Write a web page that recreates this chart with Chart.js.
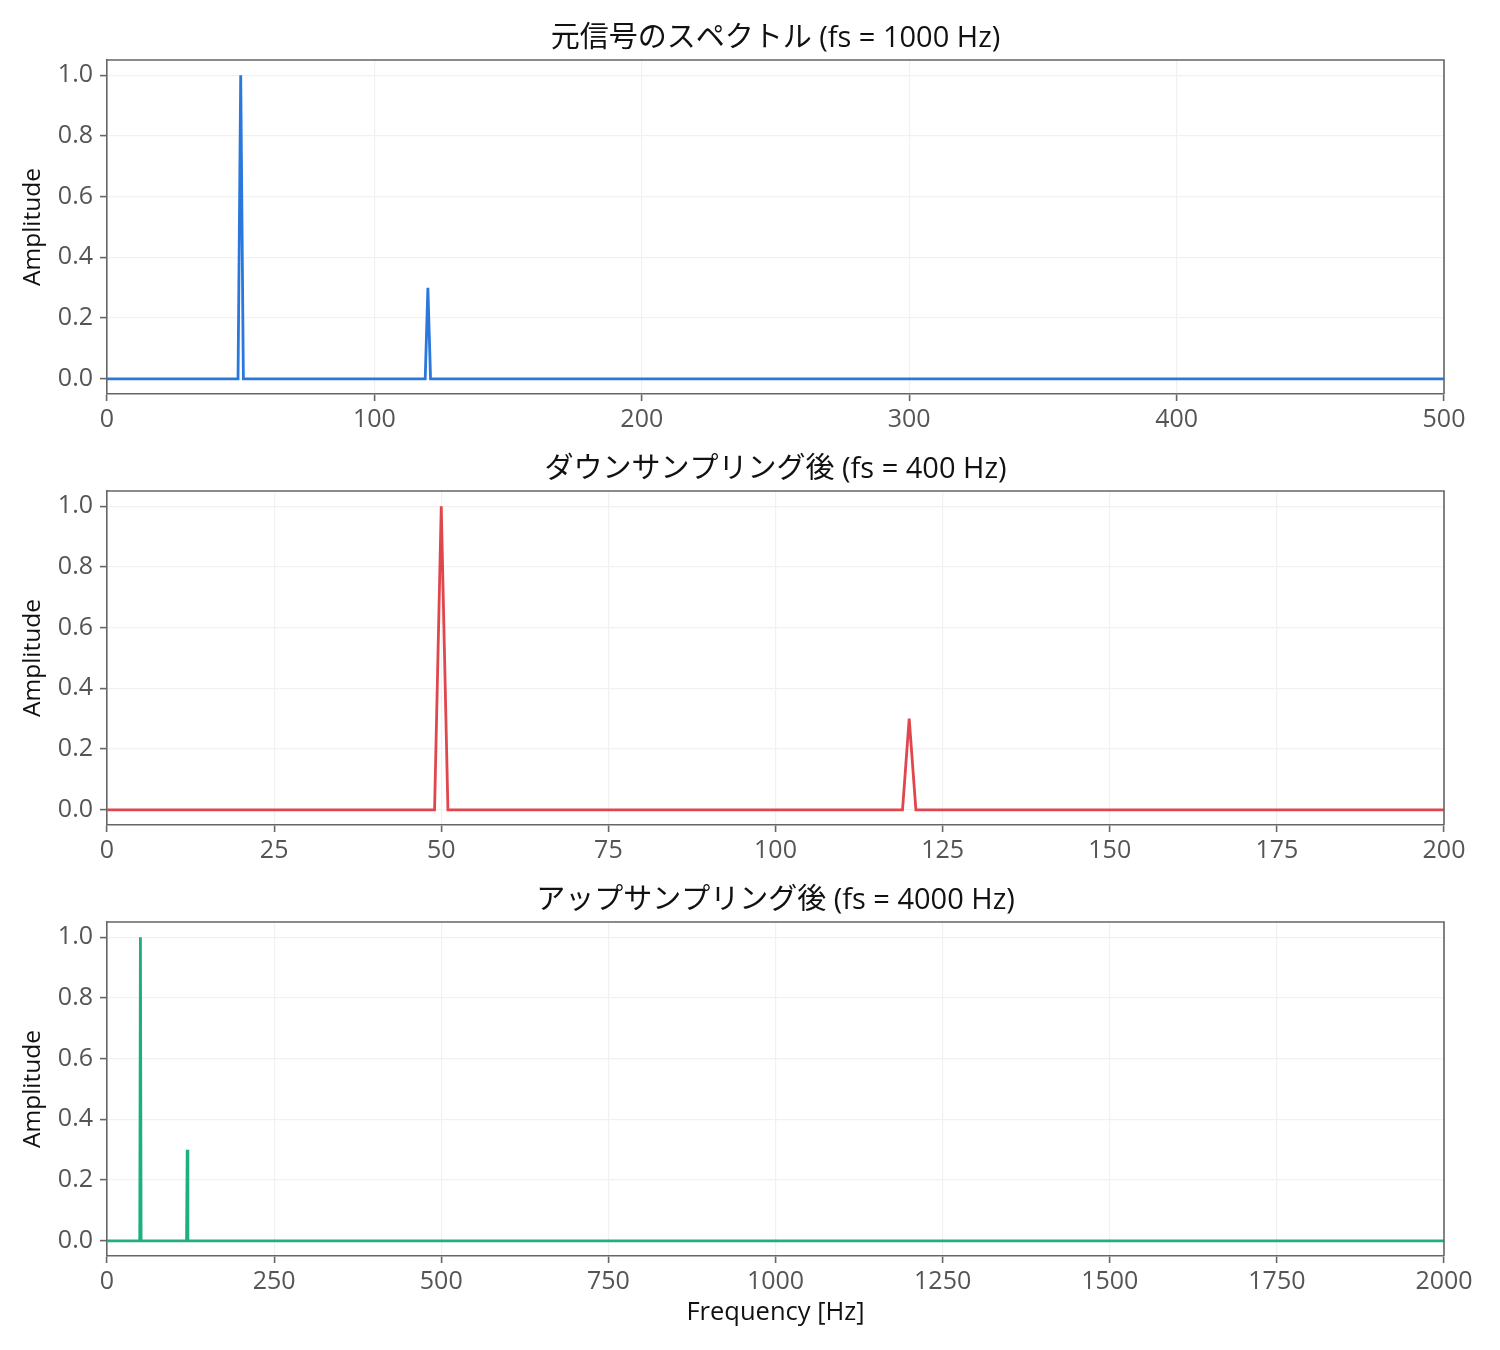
<!DOCTYPE html>
<html><head><meta charset="utf-8">
<script src="https://cdn.jsdelivr.net/npm/chart.js@4"></script>
<style>
html,body{margin:0;padding:0;background:#fff;}
body{width:1500px;height:1350px;position:relative;overflow:hidden;}
.c{position:absolute;left:0;width:1500px;}
</style></head><body>
<div class="c" style="top:0;height:431px"><canvas id="c1"></canvas></div>
<div class="c" style="top:431px;height:431px"><canvas id="c2"></canvas></div>
<div class="c" style="top:862px;height:488px"><canvas id="c3"></canvas></div>
<script>
// --- data ---
const titles = ['元信号のスペクトル (fs = 1000 Hz)', 'ダウンサンプリング後 (fs = 400 Hz)', 'アップサンプリング後 (fs = 4000 Hz)'];
const origFreq = [0, 49, 50, 51, 119, 120, 121, 500];
const origAmp  = [0, 0, 1.0, 0, 0, 0.3, 0, 0];
const downFreq = [0, 49, 50, 51, 119, 120, 121, 200];
const downAmp  = [0, 0, 1.0, 0, 0, 0.3, 0, 0];
const upFreq   = [0, 49, 50, 51, 119, 120, 121, 2000];
const upAmp    = [0, 0, 1.0, 0, 0, 0.3, 0, 0];
const xMax = [500, 200, 2000];
const xStep = [100, 25, 250];
const yTicks = [0, 0.2, 0.4, 0.6, 0.8, 1.0];
const colors = ['#2A78DC', '#E0474C', '#1DAF7E'];

const FONT = '"Open Sans", "Noto Sans CJK JP", sans-serif';
const series = [[origFreq, origAmp], [downFreq, downAmp], [upFreq, upAmp]];

function make(i) {
  const isLast = i === 2;
  const [fx, fy] = series[i];
  const pts = fx.map((f, k) => ({x: f, y: fy[k]}));
  new Chart(document.getElementById('c' + (i + 1)), {
    type: 'line',
    data: { datasets: [{ data: pts, borderColor: colors[i], borderWidth: 2.8, pointRadius: 0, tension: 0, fill: false }] },
    options: {
      responsive: true, maintainAspectRatio: false, animation: false,
      layout: { padding: { top: 60, right: 56, left: 0, bottom: 0 } },
      plugins: { legend: { display: false }, tooltip: { enabled: false }, title: { display: false } },
      scales: {
        x: {
          type: 'linear', min: 0, max: xMax[i],
          afterFit: s => { s.height = isLast ? 94 : 37; },
          afterBuildTicks: s => { const t = []; for (let v = 0; v <= xMax[i]; v += xStep[i]) t.push({value: v}); s.ticks = t; },
          ticks: { color: '#555', font: { family: FONT, size: 25 }, padding: 4, maxRotation: 0, autoSkip: false, callback: v => String(v) },
          grid: { color: '#f1f1f1', lineWidth: 1.2, tickLength: 7, tickColor: '#666', tickWidth: 1.6 },
          border: { color: '#666', width: 1.6 },
          title: { display: false }
        },
        y: {
          min: -0.05, max: 1.05,
          afterFit: s => { s.width = 107; },
          afterBuildTicks: s => { s.ticks = yTicks.map(v => ({value: v})); },
          ticks: { color: '#555', font: { family: FONT, size: 25 }, padding: 7, callback: v => v.toFixed(1) },
          grid: { color: '#f1f1f1', lineWidth: 1.2, tickLength: 7, tickColor: '#666', tickWidth: 1.6 },
          border: { color: '#666', width: 1.6 },
          title: { display: false }
        }
      }
    },
    plugins: [{
      id: 'frame',
      afterDraw(chart) {
        const {ctx, chartArea: a} = chart;
        ctx.save();
        ctx.strokeStyle = '#666'; ctx.lineWidth = 1.6;
        ctx.beginPath();
        ctx.moveTo(a.left, a.top); ctx.lineTo(a.right, a.top); ctx.lineTo(a.right, a.bottom);
        ctx.stroke();
        ctx.fillStyle = '#111';
        ctx.textAlign = 'center'; ctx.textBaseline = 'middle';
        ctx.font = '29px ' + FONT;
        ctx.fillText(titles[i], (a.left + a.right) / 2, a.top - 21);
        ctx.font = '24.5px ' + FONT;
        ctx.save();
        ctx.translate(33, (a.top + a.bottom) / 2);
        ctx.rotate(-Math.PI / 2);
        ctx.fillText('Amplitude', 0, 0);
        ctx.restore();
        ctx.font = '25.5px ' + FONT;
        if (isLast) ctx.fillText('Frequency [Hz]', (a.left + a.right) / 2, a.bottom + 57);
        ctx.restore();
      }
    }]
  });
}
[0, 1, 2].forEach(make);
</script>
</body></html>
